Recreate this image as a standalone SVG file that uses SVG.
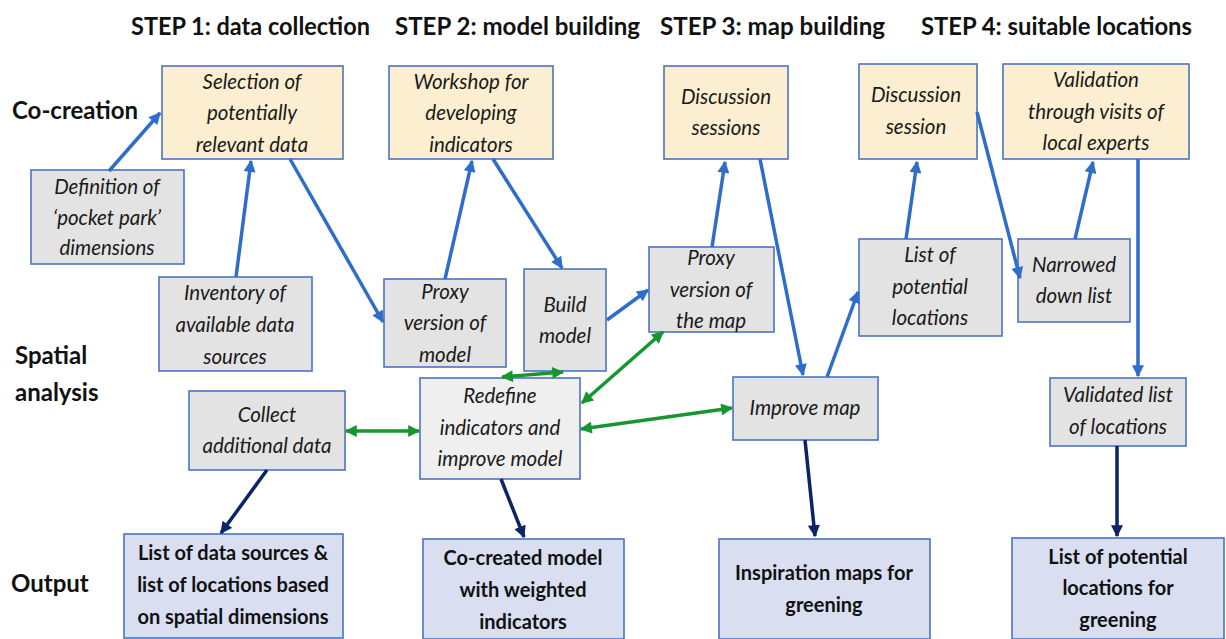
<svg xmlns="http://www.w3.org/2000/svg" width="1226" height="639" viewBox="0 0 1226 639">
<style>
.hdr{font-family:Lato,"Liberation Sans",sans-serif;font-weight:bold;font-size:25px;fill:#111}
.row{font-family:Lato,"Liberation Sans",sans-serif;font-weight:bold;font-size:24px;fill:#111}
.it{font-family:Lato,"Liberation Sans",sans-serif;font-style:italic;font-size:20.5px;fill:#1a1a1a;text-anchor:middle}
.out{font-family:Lato,"Liberation Sans",sans-serif;font-weight:bold;font-size:20px;fill:#111;text-anchor:middle}
.box{stroke:#4a74c0;stroke-width:1.6}
.yel{fill:#fcefd1}
.gry{fill:#e3e3e3}
.lgr{fill:#efefef}
.blu{fill:#d9dff1}
.cb{stroke:#2f6dcb;stroke-width:3.5;fill:none;marker-end:url(#ab)}
.cg{stroke:#16962f;stroke-width:3.5;fill:none;marker-end:url(#ag);marker-start:url(#ag)}
.cn{stroke:#0c2466;stroke-width:3.5;fill:none;marker-end:url(#an)}
</style>
<defs>
<marker id="ab" viewBox="0 0 10 10" refX="9" refY="5" markerUnits="userSpaceOnUse" markerWidth="14" markerHeight="12" orient="auto-start-reverse"><path d="M0,0 L10,5 L0,10 z" fill="#2f6dcb"/></marker>
<marker id="ag" viewBox="0 0 10 10" refX="9" refY="5" markerUnits="userSpaceOnUse" markerWidth="14" markerHeight="12" orient="auto-start-reverse"><path d="M0,0 L10,5 L0,10 z" fill="#16962f"/></marker>
<marker id="an" viewBox="0 0 10 10" refX="9" refY="5" markerUnits="userSpaceOnUse" markerWidth="14" markerHeight="12" orient="auto-start-reverse"><path d="M0,0 L10,5 L0,10 z" fill="#0c2466"/></marker>
</defs>

<g id="headers">
<text class="hdr" x="131" y="35" textLength="239" lengthAdjust="spacingAndGlyphs">STEP 1: data collection</text>
<text class="hdr" x="395" y="35" textLength="245" lengthAdjust="spacingAndGlyphs">STEP 2: model building</text>
<text class="hdr" x="660" y="35" textLength="225" lengthAdjust="spacingAndGlyphs">STEP 3: map building</text>
<text class="hdr" x="921" y="35" textLength="271" lengthAdjust="spacingAndGlyphs">STEP 4: suitable locations</text>
</g>
<g id="rowlabels">
<text class="row" x="12" y="119">Co-creation</text>
<text class="row" x="15" y="364">Spatial</text>
<text class="row" x="15" y="401">analysis</text>
<text class="row" x="11" y="592">Output</text>
</g>

<g id="n-selection"><rect class="box yel" x="162" y="66" width="181" height="93"/>
<text class="it" x="252" y="89">Selection of</text><text class="it" x="252" y="120">potentially</text><text class="it" x="252" y="152">relevant data</text></g>
<g id="n-definition"><rect class="box gry" x="31" y="170" width="153" height="94"/>
<text class="it" x="107" y="194">Definition of</text><text class="it" x="107" y="225">‘pocket park’</text><text class="it" x="107" y="255">dimensions</text></g>
<g id="n-inventory"><rect class="box gry" x="159" y="277" width="153" height="94"/>
<text class="it" x="235" y="300">Inventory of</text><text class="it" x="235" y="332">available  data</text><text class="it" x="235" y="364">sources</text></g>
<g id="n-collect"><rect class="box gry" x="189" y="391" width="156" height="79"/>
<text class="it" x="267" y="422">Collect</text><text class="it" x="267" y="453">additional  data</text></g>
<g id="n-out1"><rect class="box blu" x="124" y="534" width="219" height="104"/>
<text class="out" x="233" y="560">List of data sources &amp;</text><text class="out" x="233" y="592">list of locations based</text><text class="out" x="233" y="624">on spatial dimensions</text></g>

<g id="n-workshop"><rect class="box yel" x="389" y="66" width="164" height="93"/>
<text class="it" x="471" y="89">Workshop  for</text><text class="it" x="471" y="120">developing</text><text class="it" x="471" y="152">indicators</text></g>
<g id="n-proxymodel"><rect class="box gry" x="384" y="279" width="122" height="88"/>
<text class="it" x="445" y="299">Proxy</text><text class="it" x="445" y="330">version  of</text><text class="it" x="445" y="362">model</text></g>
<g id="n-build"><rect class="box gry" x="524" y="269" width="82" height="102"/>
<text class="it" x="565" y="312">Build</text><text class="it" x="565" y="343">model</text></g>
<g id="n-redefine"><rect class="box lgr" x="420" y="378" width="160" height="101"/>
<text class="it" x="500" y="403">Redefine</text><text class="it" x="500" y="435">indicators and</text><text class="it" x="500" y="466">improve  model</text></g>
<g id="n-out2"><rect class="box blu" x="423" y="539" width="201" height="100"/>
<text class="out" x="523" y="565">Co-created model</text><text class="out" x="523" y="597">with weighted</text><text class="out" x="523" y="629">indicators</text></g>

<g id="n-discussions"><rect class="box yel" x="664" y="66" width="124" height="93"/>
<text class="it" x="726" y="104">Discussion</text><text class="it" x="726" y="135">sessions</text></g>
<g id="n-proxymap"><rect class="box gry" x="649" y="247" width="125" height="85"/>
<text class="it" x="711" y="265">Proxy</text><text class="it" x="711" y="297">version  of</text><text class="it" x="711" y="328">the map</text></g>
<g id="n-improve"><rect class="box gry" x="733" y="377" width="145" height="63"/>
<text class="it" x="805" y="415">Improve map</text></g>
<g id="n-out3"><rect class="box blu" x="719" y="539" width="211" height="100"/>
<text class="out" x="824" y="580">Inspiration maps for</text><text class="out" x="824" y="612">greening</text></g>

<g id="n-discussion"><rect class="box yel" x="859" y="64" width="118" height="95"/>
<text class="it" x="916" y="102">Discussion</text><text class="it" x="916" y="134">session</text></g>
<g id="n-validation"><rect class="box yel" x="1003" y="64" width="186" height="95"/>
<text class="it" x="1096" y="87">Validation</text><text class="it" x="1096" y="119">through visits of</text><text class="it" x="1096" y="150">local experts</text></g>
<g id="n-listpot"><rect class="box gry" x="859" y="239" width="143" height="97"/>
<text class="it" x="930" y="262">List of</text><text class="it" x="930" y="294">potential</text><text class="it" x="930" y="325">locations</text></g>
<g id="n-narrowed"><rect class="box gry" x="1018" y="239" width="112" height="83"/>
<text class="it" x="1074" y="272">Narrowed</text><text class="it" x="1074" y="303">down list</text></g>
<g id="n-validated"><rect class="box gry" x="1050" y="378" width="136" height="68"/>
<text class="it" x="1118" y="402">Validated  list</text><text class="it" x="1118" y="434">of locations</text></g>
<g id="n-out4"><rect class="box blu" x="1012" y="538" width="212" height="101"/>
<text class="out" x="1118" y="564">List of potential</text><text class="out" x="1118" y="595">locations for</text><text class="out" x="1118" y="627">greening</text></g>

<g id="connectors">
<line class="cb" x1="109" y1="171" x2="160" y2="113"/>
<line class="cb" x1="236" y1="277" x2="251" y2="161"/>
<line class="cb" x1="290" y1="159" x2="383" y2="322"/>
<line class="cb" x1="445" y1="279" x2="472" y2="161"/>
<line class="cb" x1="493" y1="159" x2="562" y2="268"/>
<line class="cb" x1="607" y1="320" x2="648" y2="290"/>
<line class="cb" x1="712" y1="247" x2="725" y2="162"/>
<line class="cb" x1="760" y1="159" x2="803" y2="375"/>
<line class="cb" x1="827" y1="377" x2="858" y2="292"/>
<line class="cb" x1="906" y1="239" x2="917" y2="162"/>
<line class="cb" x1="977" y1="112" x2="1020" y2="278"/>
<line class="cb" x1="1075" y1="239" x2="1093" y2="162"/>
<line class="cb" x1="1138" y1="159" x2="1138" y2="376"/>
<line class="cg" x1="346" y1="431" x2="419" y2="431"/>
<line class="cg" x1="502" y1="377" x2="563" y2="372"/>
<line class="cg" x1="582" y1="403" x2="663" y2="332"/>
<line class="cg" x1="581" y1="429" x2="732" y2="408"/>
<line class="cn" x1="267" y1="470" x2="221" y2="533"/>
<line class="cn" x1="501" y1="479" x2="524" y2="537"/>
<line class="cn" x1="805" y1="440" x2="815" y2="536"/>
<line class="cn" x1="1117" y1="446" x2="1117" y2="536"/>
</g>
</svg>
